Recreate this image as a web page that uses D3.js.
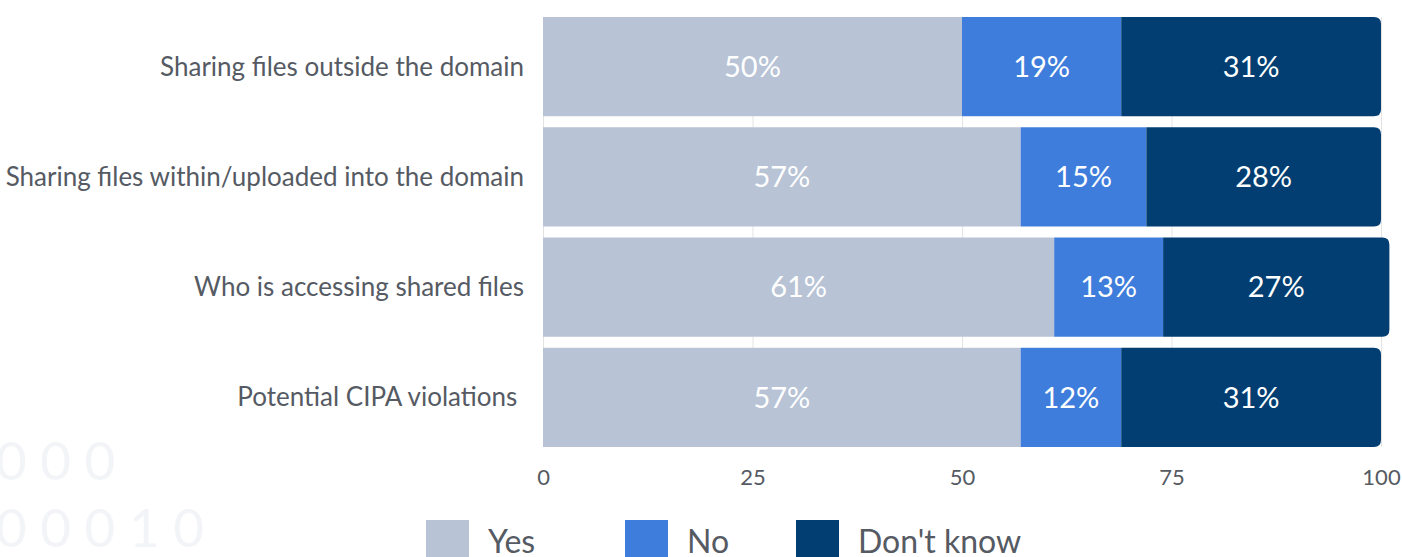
<!DOCTYPE html>
<html>
<head>
<meta charset="utf-8">
<script src="https://cdn.jsdelivr.net/npm/d3@7"></script>
<style>
  body { margin: 0; background: #fff; }
  svg { display: block; font-family: Lato, "Noto Sans", sans-serif; }
  .cat { white-space: pre; }
</style>
</head>
<body>
<script>
const categories = [
  "Sharing files outside the domain",
  "Sharing files within/uploaded into the domain",
  "Who is accessing shared files",
  "Potential CIPA violations "
];
const seriesNames = ["Yes", "No", "Don't know"];
const yesValues = [50, 57, 61, 57];
const noValues = [19, 15, 13, 12];
const dontKnowValues = [31, 28, 27, 31];
const xTicks = [0, 25, 50, 75, 100];
const bgDigits = ["0 0 0", "0 0 0 1 0"];

const WIDTH = 1402;
const HEIGHT = 557;
const LEFT = 543;
const RIGHT = 1381;
const COLORS = ["#b8c3d6", "#3e7ddb", "#023e71"];
const TEXT = "#555a63";

var translate = function(x, y) {
  return "translate(" + x + "," + y + ")";
};

var xScale = d3.scaleLinear().domain([0, 100]).range([LEFT, RIGHT]);

var yScale = d3.scaleBand()
  .domain(categories)
  .range([17, 447])
  .paddingInner(0.1)
  .paddingOuter(0);

var color = d3.scaleOrdinal().domain(seriesNames).range(COLORS);

// path for a bar with only the right corners rounded
var rightRounded = function(x, y, w, h, r) {
  return "M" + x + "," + y +
    "H" + (x + w - r) +
    "Q" + (x + w) + "," + y + " " + (x + w) + "," + (y + r) +
    "V" + (y + h - r) +
    "Q" + (x + w) + "," + (y + h) + " " + (x + w - r) + "," + (y + h) +
    "H" + x + "Z";
};

var onload = function() {
  var svg = d3.select("body").append("svg")
    .attr("width", WIDTH)
    .attr("height", HEIGHT);

  // faint decorative digits
  svg.append("g").selectAll("text").data(bgDigits).enter()
    .append("text")
    .attr("x", -4)
    .attr("y", function(d, i) { return 480 + i * 67; })
    .attr("fill", "#f3f4f7")
    .attr("font-size", 53)
    .style("white-space", "pre")
    .text(function(d) { return d; });

  // grid lines
  svg.append("g").selectAll("line").data(xTicks).enter()
    .append("line")
    .attr("x1", function(d) { return xScale(d) + 0.5; })
    .attr("x2", function(d) { return xScale(d) + 0.5; })
    .attr("y1", 17)
    .attr("y2", 447)
    .attr("stroke", "#e3e3e3")
    .attr("stroke-width", 1);

  var rows = categories.map(function(c, i) {
    return {cat: c, values: [yesValues[i], noValues[i], dontKnowValues[i]]};
  });

  var row = svg.append("g").selectAll("g").data(rows).enter()
    .append("g");

  row.each(function(d) {
    var g = d3.select(this);
    var start = 0;
    var y = yScale(d.cat);
    var h = yScale.bandwidth();
    d.values.forEach(function(v, j) {
      var x0 = xScale(start);
      var x1 = xScale(start + v);
      if (j === d.values.length - 1) {
        g.append("path")
          .attr("d", rightRounded(x0, y, x1 - x0, h, 7))
          .attr("fill", COLORS[j]);
      } else {
        g.append("rect")
          .attr("x", x0)
          .attr("y", y)
          .attr("width", x1 - x0)
          .attr("height", h)
          .attr("fill", COLORS[j]);
      }
      g.append("text")
        .attr("x", (x0 + x1) / 2)
        .attr("y", y + h / 2)
        .attr("dy", "0.35em")
        .attr("text-anchor", "middle")
        .attr("fill", "#fff")
        .attr("font-size", 29)
        .text(v + "%");
      start += v;
    });
  });

  // category labels
  svg.append("g").selectAll("text").data(categories).enter()
    .append("text")
    .attr("class", "cat")
    .attr("x", 524)
    .attr("y", function(d) { return yScale(d) + yScale.bandwidth() / 2; })
    .attr("dy", "0.35em")
    .attr("text-anchor", "end")
    .attr("fill", TEXT)
    .attr("font-size", 26)
    .text(function(d) { return d; });

  // x axis
  var xAxis = d3.axisBottom(xScale).tickValues(xTicks).tickSize(0).tickPadding(0);
  var ax = svg.append("g")
    .attr("transform", translate(0, 469))
    .call(xAxis);
  ax.select(".domain").remove();
  ax.selectAll("text")
    .attr("fill", TEXT)
    .attr("font-size", 22)
    .attr("font-family", "Lato, 'Noto Sans', sans-serif");

  // legend
  var legendX = [426, 625, 796];
  var leg = svg.append("g").selectAll("g").data(seriesNames).enter()
    .append("g")
    .attr("transform", function(d, i) { return translate(legendX[i], 520); });
  leg.append("rect")
    .attr("width", 43)
    .attr("height", 43)
    .attr("fill", function(d) { return color(d); });
  leg.append("text")
    .attr("x", 62)
    .attr("y", 22)
    .attr("dy", "0.35em")
    .attr("fill", TEXT)
    .attr("font-size", 32)
    .text(function(d) { return d; });
};

window.onload = onload;
</script>
</body>
</html>
